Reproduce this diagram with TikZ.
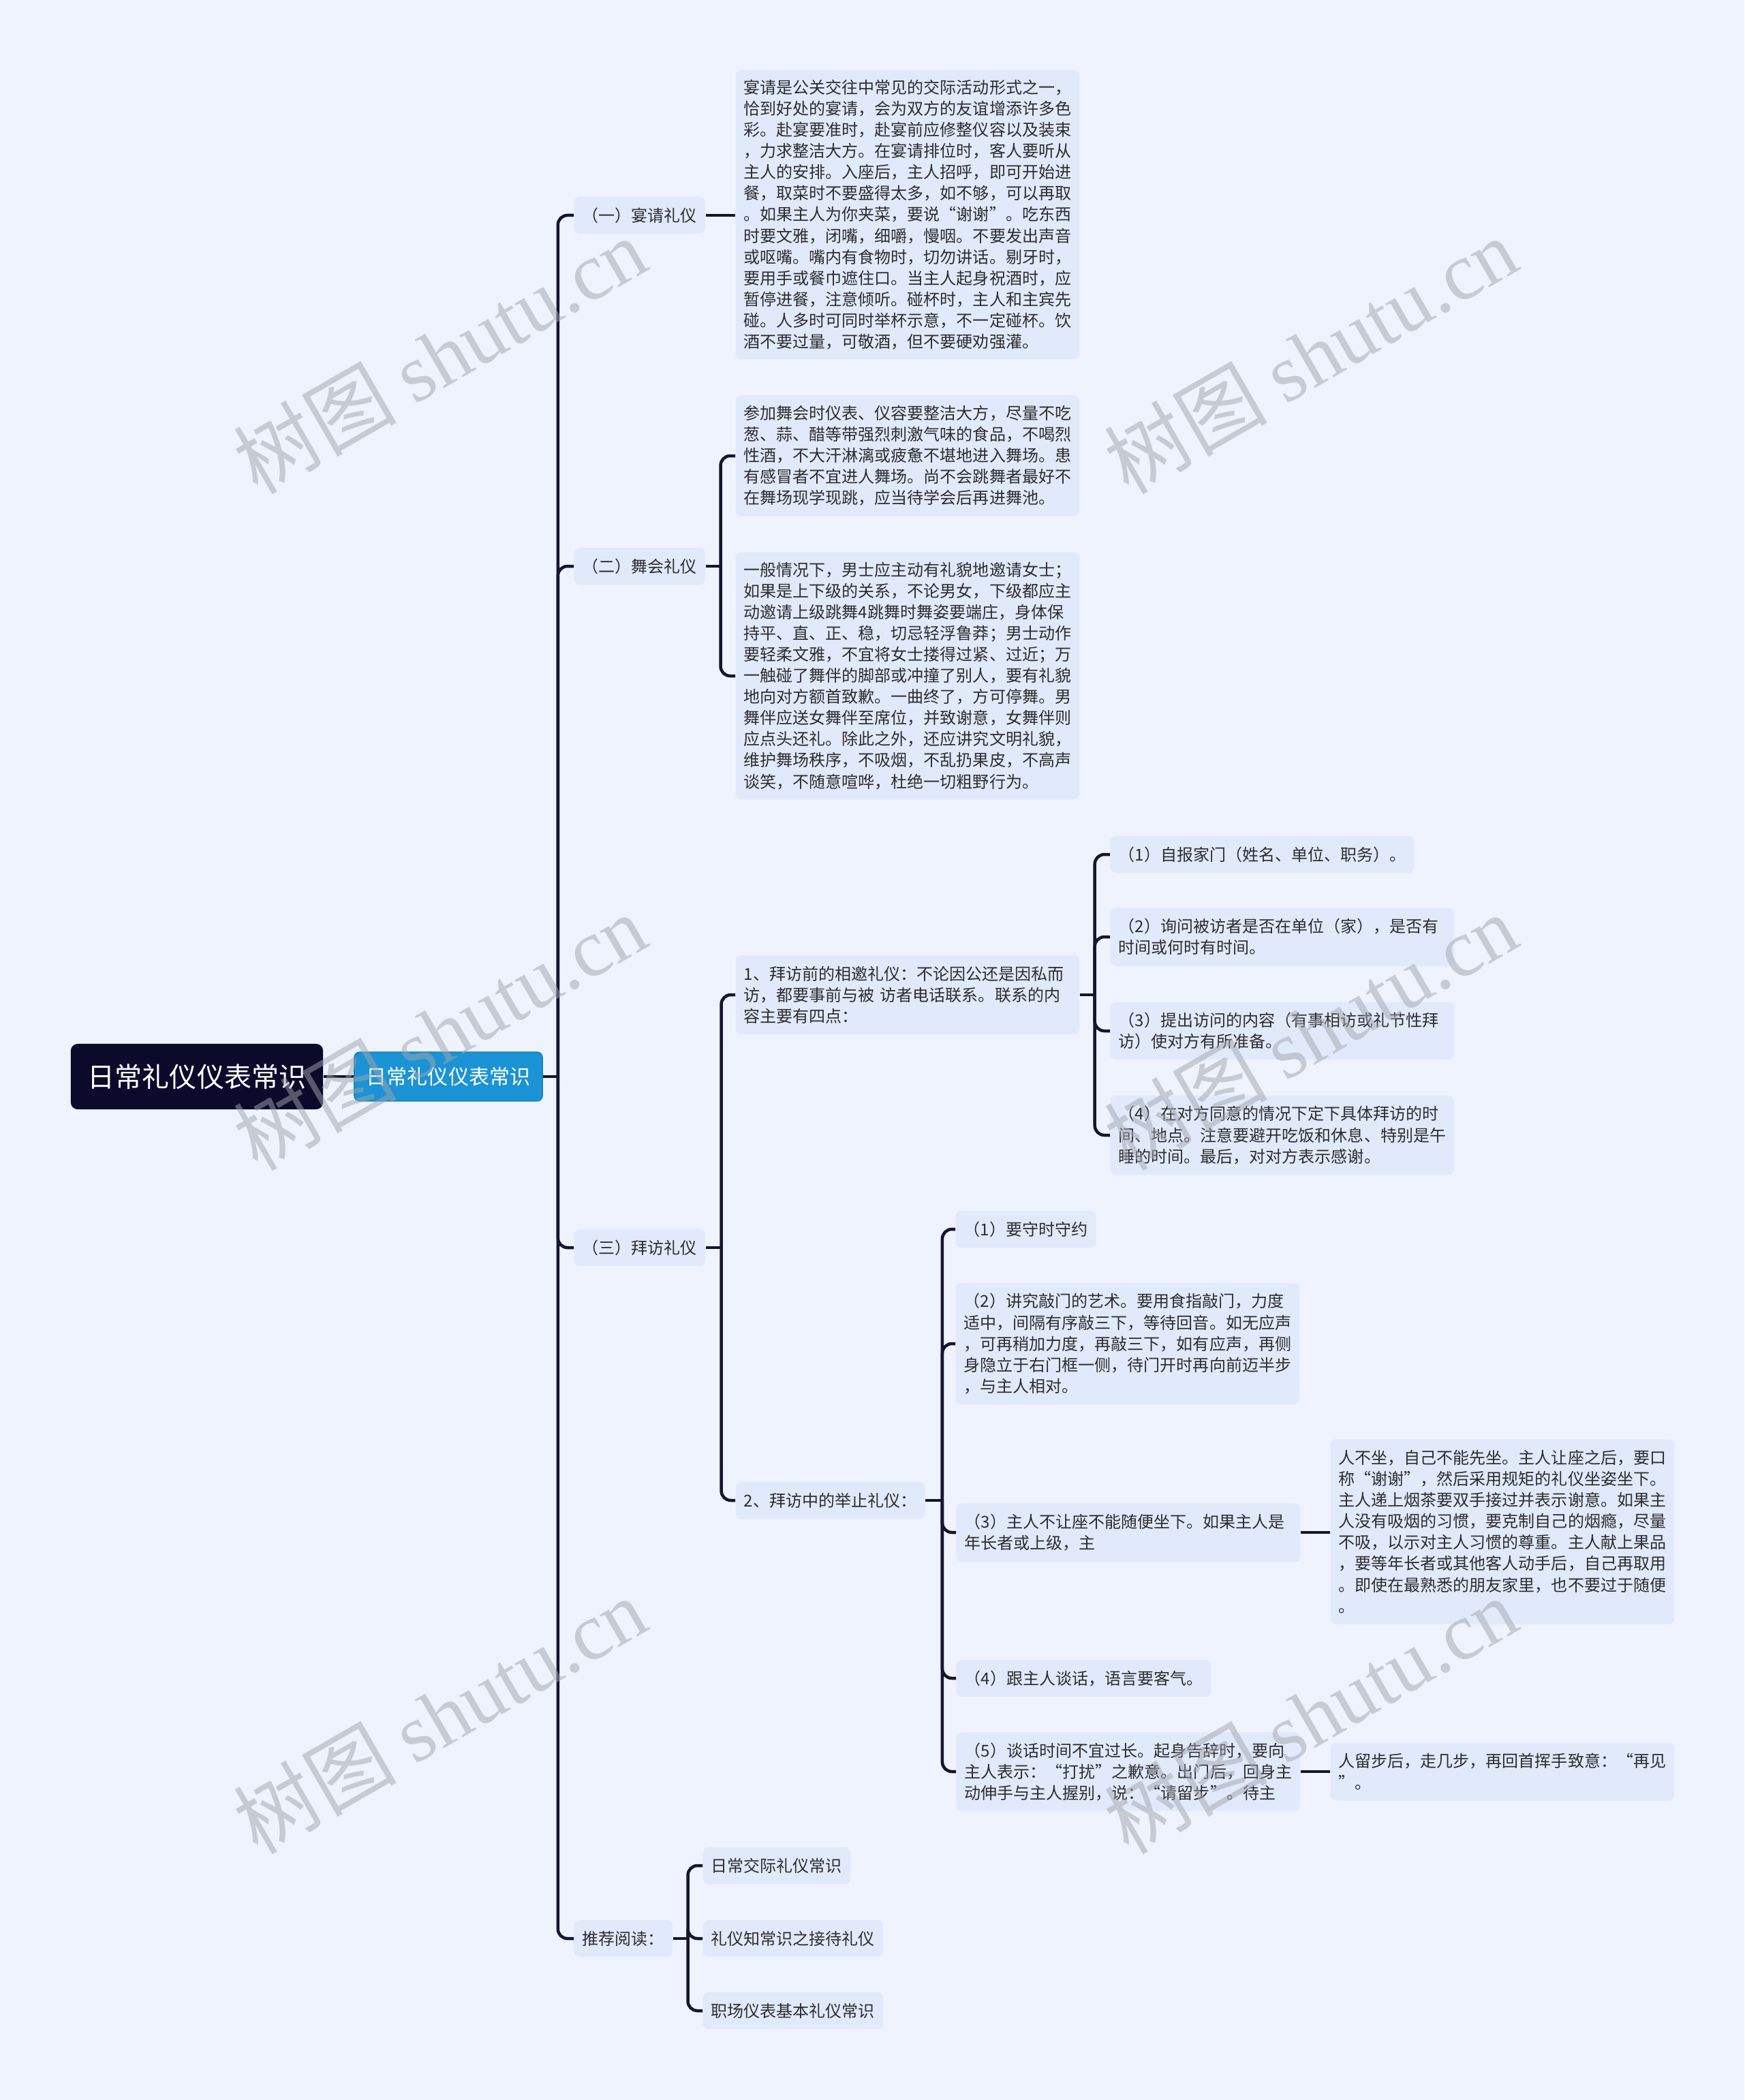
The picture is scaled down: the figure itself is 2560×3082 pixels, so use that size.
\documentclass[tikz,border=0pt]{standalone}
\usepackage{fontspec}
\setmainfont{Noto Sans CJK SC}
\newfontfamily\marcafont{Liberation Serif}
\usetikzlibrary{positioning}

\definecolor{FondoColor}{HTML}{EEF3FD}
\definecolor{CajaColor}{HTML}{E1EAFB}
\definecolor{LineaColor}{HTML}{16142F}
\definecolor{RaizColor}{HTML}{0C0A2B}
\definecolor{AzulColor}{HTML}{1B93D5}
\definecolor{TextoColor}{HTML}{2D2D2D}
\definecolor{MarcaColor}{HTML}{A2A5AD}

\begin{document}
\begin{tikzpicture}[x=0.01cm, y=-0.01cm,
  caja/.style={fill=CajaColor, rounded corners=0.08cm, anchor=west, align=left,
    inner xsep=0.12cm, inner ysep=0pt, text=TextoColor,
    font=\fontsize{6.83pt}{8.82pt}\selectfont},
  corta/.style={caja, minimum height=0.54cm},
  larga/.style={caja, text width=4.8cm},
  enlace/.style={draw=LineaColor, line width=0.045cm, rounded corners=0.14cm},
  marca/.style={text=MarcaColor, opacity=0.5, rotate=30,
    font=\fontsize{34pt}{36pt}\selectfont}]

  %–– Fondo ––
  \fill[FondoColor] (0,0) rectangle (2560,3082);

  %–– Raíz y tema ––
  \node[fill=RaizColor, rounded corners=0.1cm, text=white, minimum width=3.7cm,
    minimum height=0.96cm, font=\fontsize{11.38pt}{13pt}\selectfont]
    (raiz) at (289,1580) {日常礼仪仪表常识};
  \node[fill=AzulColor, draw=AzulColor!85!black, line width=0.4pt, rounded corners=0.08cm,
    text=white, minimum width=2.76cm, minimum height=0.72cm,
    font=\fontsize{8.54pt}{10pt}\selectfont]
    (tema) at (658,1580) {日常礼仪仪表常识};

  %–– Primer nivel ––
  \node[corta] (n1) at (842,316) {（一）宴请礼仪};
  \node[corta] (n2) at (842,831) {（二）舞会礼仪};
  \node[corta] (n3) at (842,1831) {（三）拜访礼仪};
  \node[corta] (n4) at (842,2845) {推荐阅读：};

  %–– Banquete ––
  \node[larga, minimum height=4.24cm] (t1) at (1079,315) {宴请是公关交往中常见的交际活动形式之一，\\
    恰到好处的宴请，会为双方的友谊增添许多色\\
    彩。赴宴要准时，赴宴前应修整仪容以及装束\\
    ，力求整洁大方。在宴请排位时，客人要听从\\
    主人的安排。入座后，主人招呼，即可开始进\\
    餐，取菜时不要盛得太多，如不够，可以再取\\
    。如果主人为你夹菜，要说“谢谢”。吃东西\\
    时要文雅，闭嘴，细嚼，慢咽。不要发出声音\\
    或呕嘴。嘴内有食物时，切勿讲话。剔牙时，\\
    要用手或餐巾遮住口。当主人起身祝酒时，应\\
    暂停进餐，注意倾听。碰杯时，主人和主宾先\\
    碰。人多时可同时举杯示意，不一定碰杯。饮\\
    酒不要过量，可敬酒，但不要硬劝强灌。};

  %–– Baile ––
  \node[larga, minimum height=1.77cm] (t2a) at (1079,669) {参加舞会时仪表、仪容要整洁大方，尽量不吃\\
    葱、蒜、醋等带强烈刺激气味的食品，不喝烈\\
    性酒，不大汗淋漓或疲惫不堪地进入舞场。患\\
    有感冒者不宜进人舞场。尚不会跳舞者最好不\\
    在舞场现学现跳，应当待学会后再进舞池。};
  \node[larga, minimum height=3.62cm] (t2b) at (1079,992) {一般情况下，男士应主动有礼貌地邀请女士；\\
    如果是上下级的关系，不论男女，下级都应主\\
    动邀请上级跳舞4跳舞时舞姿要端庄，身体保\\
    持平、直、正、稳，切忌轻浮鲁莽；男士动作\\
    要轻柔文雅，不宜将女士搂得过紧、过近；万\\
    一触碰了舞伴的脚部或冲撞了别人，要有礼貌\\
    地向对方额首致歉。一曲终了，方可停舞。男\\
    舞伴应送女舞伴至席位，并致谢意，女舞伴则\\
    应点头还礼。除此之外，还应讲究文明礼貌，\\
    维护舞场秩序，不吸烟，不乱扔果皮，不高声\\
    谈笑，不随意喧哗，杜绝一切粗野行为。};

  %–– Visita ––
  \node[larga, minimum height=1.16cm] (v1) at (1079,1460) {1、拜访前的相邀礼仪：不论因公还是因私而\\
    访，都要事前与被 访者电话联系。联系的内\\
    容主要有四点：};
  \node[corta] (v2) at (1079,2202) {2、拜访中的举止礼仪：};

  \node[corta] (p1) at (1629,1254) {（1）自报家门（姓名、单位、职务）。};
  \node[larga, minimum height=0.85cm] (p2) at (1629,1375) {（2）询问被访者是否在单位（家），是否有\\
    时间或何时有时间。};
  \node[larga, minimum height=0.84cm] (p3) at (1629,1513) {（3）提出访问的内容（有事相访或礼节性拜\\
    访）使对方有所准备。};
  \node[larga, minimum height=1.16cm] (p4) at (1629,1666) {（4）在对方同意的情况下定下具体拜访的时\\
    间、地点。注意要避开吃饭和休息、特别是午\\
    睡的时间。最后，对对方表示感谢。};

  \node[corta] (q1) at (1402,1804) {（1）要守时守约};
  \node[larga, minimum height=1.78cm] (q2) at (1402,1972) {（2）讲究敲门的艺术。要用食指敲门，力度\\
    适中，间隔有序敲三下，等待回音。如无应声\\
    ，可再稍加力度，再敲三下，如有应声，再侧\\
    身隐立于右门框一侧，待门开时再向前迈半步\\
    ，与主人相对。};
  \node[larga, minimum height=0.86cm] (q3) at (1403,2249) {（3）主人不让座不能随便坐下。如果主人是\\
    年长者或上级，主};
  \node[larga, minimum height=2.71cm] (q3x) at (1952,2248) {人不坐，自己不能先坐。主人让座之后，要口\\
    称“谢谢”，然后采用规矩的礼仪坐姿坐下。\\
    主人递上烟茶要双手接过并表示谢意。如果主\\
    人没有吸烟的习惯，要克制自己的烟瘾，尽量\\
    不吸，以示对主人习惯的尊重。主人献上果品\\
    ，要等年长者或其他客人动手后，自己再取用\\
    。即使在最熟悉的朋友家里，也不要过于随便\\
    。};
  \node[corta] (q4) at (1403,2463) {（4）跟主人谈话，语言要客气。};
  \node[larga, minimum height=1.15cm] (q5) at (1403,2600) {（5）谈话时间不宜过长。起身告辞时，要向\\
    主人表示：“打扰”之歉意。出门后，回身主\\
    动伸手与主人握别，说：“请留步”。待主};
  \node[larga, minimum height=0.85cm] (q5x) at (1952,2600) {人留步后，走几步，再回首挥手致意：“再见\\
    ”。};

  %–– Lecturas ––
  \node[corta] (r1) at (1031,2738) {日常交际礼仪常识};
  \node[corta] (r2) at (1031,2845) {礼仪知常识之接待礼仪};
  \node[corta] (r3) at (1031,2951) {职场仪表基本礼仪常识};

  %–– Conexiones ––
  \draw[enlace] (raiz.east) -- (tema.west);
  \coordinate (j0) at ([xshift=0.22cm]tema.east);
  \draw[enlace] (tema.east) -- (j0);
  \foreach \n in {n1,n2,n3,n4}
    \draw[enlace] (j0) |- (\n.west);

  \draw[enlace] (n1.east) -- (n1.east -| t1.west);

  \coordinate (j2) at ([xshift=0.22cm]n2.east);
  \draw[enlace] (n2.east) -- (j2);
  \foreach \n in {t2a,t2b}
    \draw[enlace] (j2) |- (\n.west);

  \coordinate (j3) at ([xshift=0.23cm]n3.east);
  \draw[enlace] (n3.east) -- (j3);
  \foreach \n in {v1,v2}
    \draw[enlace] (j3) |- (\n.west);

  \coordinate (jv1) at ([xshift=0.22cm]v1.east);
  \draw[enlace] (v1.east) -- (jv1);
  \foreach \n in {p1,p2,p3,p4}
    \draw[enlace] (jv1) |- (\n.west);

  \coordinate (jv2) at ([xshift=0.25cm]v2.east);
  \draw[enlace] (v2.east) -- (jv2);
  \foreach \n in {q1,q2,q3,q4,q5}
    \draw[enlace] (jv2) |- (\n.west);

  \draw[enlace] (q3.east) -- (q3.east -| q3x.west);
  \draw[enlace] (q5.east) -- (q5x.west);

  \coordinate (j4) at ([xshift=0.22cm]n4.east);
  \draw[enlace] (n4.east) -- (j4);
  \foreach \n in {r1,r2,r3}
    \draw[enlace] (j4) |- (\n.west);

  %–– Marcas de agua ––
  \foreach \mx/\my [count=\k] in {645/521, 1923/521, 645/1514, 1923/1514, 645/2517, 1923/2517}
    \node[marca] (marca\k) at (\mx,\my) {树图 {\marcafont shutu.cn}};

\end{tikzpicture}
\end{document}
